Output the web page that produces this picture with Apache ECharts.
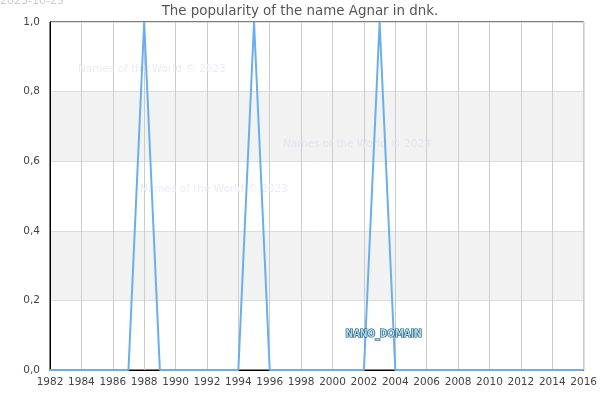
<!DOCTYPE html>
<html><head><meta charset="utf-8">
<script src="https://cdn.jsdelivr.net/npm/echarts@6/dist/echarts.min.js"></script>
<style>html,body{margin:0;padding:0;background:#fff}#c{width:600px;height:400px}</style>
</head><body><div id="c"></div>
<script>
const years = [1982,1983,1984,1985,1986,1987,1988,1989,1990,1991,1992,1993,1994,1995,1996,1997,1998,1999,2000,2001,2002,2003,2004,2005,2006,2007,2008,2009,2010,2011,2012,2013,2014,2015,2016];
const popularity = [0,0,0,0,0,0,1,0,0,0,0,0,0,1,0,0,0,0,0,0,0,1,0,0,0,0,0,0,0,0,0,0,0,0,0];
const titleText = 'The popularity of the name Agnar in dnk.';
const dateText = '2023-10-25';
const watermark = 'Names of the World © 2023';

const chart = echarts.init(document.getElementById('c'));
const font = 'DejaVu Sans';
chart.setOption({
  animation: false,
  textStyle: {fontFamily: font},
  title: {text: titleText, left: 'center', top: 0, textStyle: {fontSize: 13.4, fontWeight: 'normal', color: '#555', fontFamily: font}},
  grid: {left: 50, right: 15, top: 22, bottom: 30, show: true, borderColor: '#000', borderWidth: 1, backgroundColor: 'transparent'},
  xAxis: {type: 'value', min: 1982, max: 2016, interval: 2,
    axisLine: {show: true, lineStyle: {color: '#000', width: 1}},
    axisTick: {show: false},
    axisLabel: {color: '#444', fontSize: 10.5, fontFamily: font, margin: 7, showMinLabel: true, showMaxLabel: true, hideOverlap: false, formatter: v => String(v)},
    splitLine: {show: true, lineStyle: {color: '#ccc', width: 1}}},
  yAxis: {type: 'value', min: 0, max: 1, interval: 0.2,
    axisLine: {show: true, lineStyle: {color: '#000', width: 1}},
    axisTick: {show: false},
    axisLabel: {color: '#444', fontSize: 10.5, fontFamily: font, margin: 10, formatter: v => v.toFixed(1).replace('.', ',')},
    splitLine: {show: true, lineStyle: {color: '#ddd', width: 1}},
    splitArea: {show: true, areaStyle: {color: ['rgba(255,255,255,0)', '#f2f2f2']}}},
  graphic: [
    {type: 'text', left: 0, top: -4, style: {text: dateText, fontSize: 11, fill: '#ccc', fontFamily: font}},
    {type: 'text', left: 78, top: 64, z: 2, style: {text: watermark, fontSize: 10.5, fill: '#ebebfa', fontFamily: font}},
    {type: 'text', left: 283, top: 139, z: 2, style: {text: watermark, fontSize: 10.5, fill: '#e4e4f4', fontFamily: font}},
    {type: 'text', left: 140, top: 184, z: 2, style: {text: watermark, fontSize: 10.5, fill: '#ebebfa', fontFamily: font}},
    {type: 'text', left: 345, top: 329, z: 100, style: {text: 'NANO_DOMAIN', fontSize: 10, fontWeight: 'bold', fill: '#a8dcf0', stroke: '#1a4a66', lineWidth: 1.2, fontFamily: 'DejaVu Sans Condensed'}}
  ],
  series: [{type: 'line', data: years.map((y, i) => [y, popularity[i]]), showSymbol: false,
    lineStyle: {color: '#6aaef0', width: 2}, z: 3}]
});
</script></body></html>
